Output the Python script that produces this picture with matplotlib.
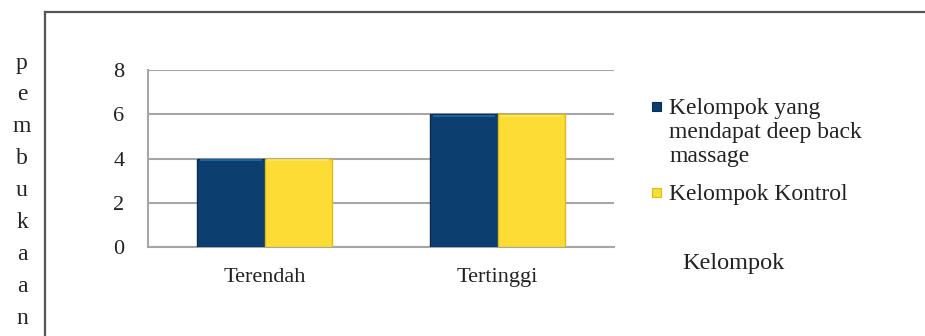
import matplotlib
matplotlib.use("Agg")
import matplotlib.pyplot as plt
from matplotlib.patches import Rectangle
from matplotlib.lines import Line2D
import numpy as np

categories = ["Terendah", "Tertinggi"]
series_names = ["Kelompok yang\nmendapat deep back\nmassage", "Kelompok Kontrol"]
deep_back = [4, 6]
kontrol = [4, 6]
y_ticks = [0, 2, 4, 6, 8]
y_label = "pembukaan"
x_label = "Kelompok"

face_colors = ["#0d3e70", "#fddd35"]
edge_colors = ["#0a2b4e", "#d8bd1c"]
top_colors = ["#2a6bb0", "#fde866"]

plt.rcParams["font.family"] = ["Liberation Serif", "DejaVu Serif"]

fig = plt.figure(figsize=(9.25, 3.36), dpi=100)
W, H = 925, 336

ax = fig.add_axes([148 / W, 1 - 247 / H, (614 - 148) / W, (247 - 70) / H])

x = np.arange(len(categories))
width = 0.288
values = [deep_back, kontrol]
offsets = [-width / 2, width / 2]
for vals, off, fc, ec, tc in zip(values, offsets, face_colors, edge_colors, top_colors):
    bars = ax.bar(x + off, vals, width, color=fc, edgecolor=ec, linewidth=1.0, zorder=3)
    # bevel highlight along the top of each bar
    for b in bars:
        h = b.get_height()
        ax.add_patch(Rectangle((b.get_x() + 0.01, h - 0.12), b.get_width() - 0.02, 0.1,
                               facecolor=tc, edgecolor="none", zorder=4, alpha=0.8))

ax.set_xlim(-0.5, len(categories) - 0.5)
ax.set_ylim(0, 8)
ax.set_yticks(y_ticks)
ax.set_yticklabels([str(t) for t in y_ticks], fontsize=16, color="#222222")
ax.set_xticks(x)
ax.set_xticklabels(categories, fontsize=16, color="#222222")
ax.tick_params(axis="both", length=0)
ax.tick_params(axis="y", pad=17)
ax.tick_params(axis="x", pad=15)
ax.yaxis.grid(True, color="#a6a6a6", linewidth=1.5, zorder=0)
ax.set_axisbelow(True)
for side in ["top", "right"]:
    ax.spines[side].set_visible(False)
ax.spines["left"].set_color("#a6a6a6")
ax.spines["left"].set_linewidth(1.5)
ax.spines["bottom"].set_color("#a6a6a6")
ax.spines["bottom"].set_linewidth(1.5)

# outer chart frame (top and left edges)
frame_color = "#555555"
fig.add_artist(Line2D([45 / W, 45 / W], [0, 1 - 12 / H], transform=fig.transFigure,
                      color=frame_color, linewidth=1.6))
fig.add_artist(Line2D([45 / W, 1.0], [1 - 12 / H, 1 - 12 / H], transform=fig.transFigure,
                      color=frame_color, linewidth=1.6))

# vertical axis title, one letter per line
for i, ch in enumerate(y_label):
    fig.text(22 / W, 1 - (63 + i * 32) / H, ch, ha="center", va="center",
             fontsize=17, color="#222222")

# legend
legend_y = [107, 193]
for name, fc, ec, ly in zip(series_names, face_colors, edge_colors, legend_y):
    fig.add_artist(Rectangle((652 / W, 1 - (ly + 4) / H), 9 / W, 9 / H,
                             transform=fig.transFigure, facecolor=fc, edgecolor=ec,
                             linewidth=0.8))
    fig.text(669 / W, 1 - (ly - 9) / H, name, ha="left", va="top", fontsize=17,
             color="#222222", linespacing=1.2)

fig.text(733 / W, 1 - 264 / H, x_label, ha="center", va="center", fontsize=17.5,
         color="#222222")

fig.savefig("out.png", dpi=100)
